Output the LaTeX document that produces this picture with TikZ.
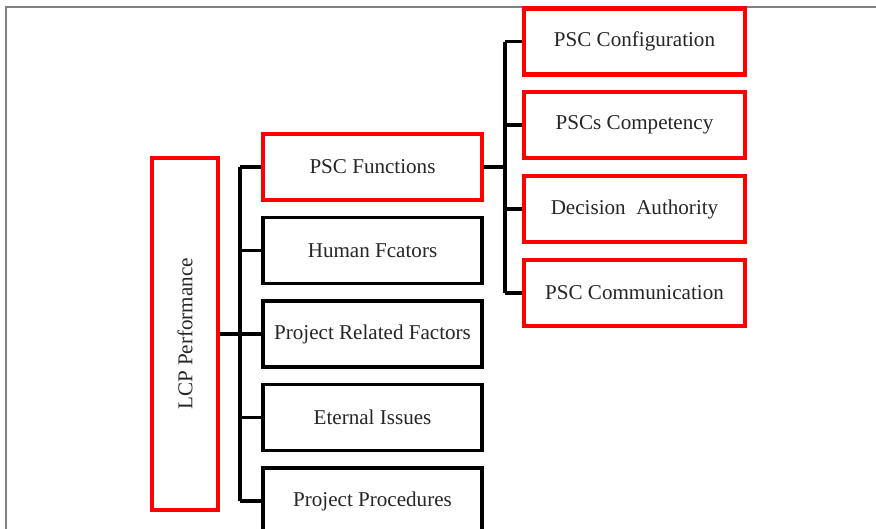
\documentclass[tikz,border=0pt]{standalone}
\usepackage{fontspec}
\setmainfont{Liberation Serif}
\usetikzlibrary{calc}

\tikzset{
  redbox/.style={draw=red, line width=2.3pt, fill=white, font=\large,
                 text=black!85},
  blackbox/.style={draw=black, line width=2.1pt, fill=white, font=\large,
                   text=black!85},
  link/.style={draw=black, line width=2pt},
}

\begin{document}
\begin{tikzpicture}
  \clip (0,0) rectangle (17.52,-10.56);
  \fill[white] (0,0) rectangle (17.52,-10.56);

  % Frame (top and left edges only)
  \draw[gray, line width=0.8pt] (0.12,-10.6) -- (0.12,-0.14) -- (17.6,-0.14);

  % Root
  \node[redbox, minimum width=1.32cm, minimum height=7.04cm] (lcp) at (3.70,-6.68)
    {\rotatebox{90}{LCP Performance}};

  % Second level
  \foreach \i/\t/\s in {0/PSC Functions/redbox, 1/Human Fcators/blackbox,
                        2/Project Related Factors/blackbox,
                        3/Eternal Issues/blackbox, 4/Project Procedures/blackbox} {
    \node[\s, minimum width=4.38cm, minimum height=1.32cm] (m\i)
      at (7.45, -3.34-\i*1.67) {\t};
  }

  % Third level
  \foreach \i/\t in {0/PSC Configuration, 1/PSCs Competency,
                     2/Decision\ \ Authority, 3/PSC Communication} {
    \node[redbox, minimum width=4.42cm, minimum height=1.32cm] (r\i)
      at (12.69, -0.83-\i*1.675) {\t};
  }

  % Junctions
  \coordinate (jl) at (4.80, -6.68);
  \coordinate (jr) at (10.10, -3.34);

  % Left tree
  \draw[link] (lcp.east) -- (jl);
  \draw[link] (m0.west -| jl) -- (m4.west -| jl);
  \foreach \i in {0,...,4}
    \draw[link] (m\i.west -| jl) -- (m\i.west);

  % Right tree
  \draw[link] (m0.east) -- (jr);
  \draw[link] (r0.west -| jr) -- (r3.west -| jr);
  \foreach \i in {0,...,3}
    \draw[link] (r\i.west -| jr) -- (r\i.west);
\end{tikzpicture}
\end{document}
